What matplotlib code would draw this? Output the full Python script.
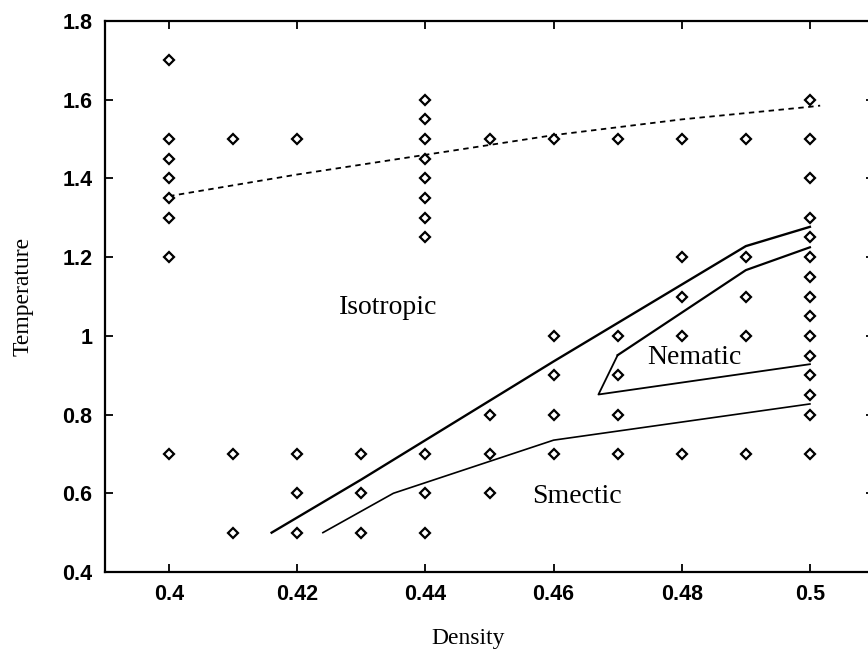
import numpy as np
import matplotlib.pyplot as plt

# simulation state points (density, temperature)
pts_x = [0.40]*8 + [0.41]*3 + [0.42]*4 + [0.43]*3 + [0.44]*11 + [0.45]*4 \
    + [0.46]*5 + [0.47]*5 + [0.48]*5 + [0.49]*5 + [0.50]*15
pts_y = [1.7, 1.5, 1.45, 1.4, 1.35, 1.3, 1.2, 0.7,
         1.5, 0.7, 0.5,
         1.5, 0.7, 0.6, 0.5,
         0.7, 0.6, 0.5,
         1.6, 1.55, 1.5, 1.45, 1.4, 1.35, 1.3, 1.25, 0.7, 0.6, 0.5,
         1.5, 0.8, 0.7, 0.6,
         1.5, 1.0, 0.9, 0.8, 0.7,
         1.5, 1.0, 0.9, 0.8, 0.7,
         1.5, 1.2, 1.1, 1.0, 0.7,
         1.5, 1.2, 1.1, 1.0, 0.7,
         1.6, 1.5, 1.4, 1.3, 1.25, 1.2, 1.15, 1.1, 1.05, 1.0, 0.95, 0.9, 0.85, 0.8, 0.7]

# dashed boundary
dash_x = [0.40, 0.42, 0.44, 0.46, 0.48, 0.50, 0.5016]
dash_y = [1.355, 1.41, 1.46, 1.51, 1.55, 1.582, 1.585]

# isotropic / ordered boundary
upper_x = [0.416, 0.43, 0.46, 0.49, 0.50]
upper_y = [0.50, 0.635, 0.935, 1.228, 1.277]

# smectic boundary
lower_x = [0.424, 0.435, 0.46, 0.50]
lower_y = [0.50, 0.60, 0.735, 0.827]

# nematic region
nem_x = [0.50, 0.49, 0.47, 0.467, 0.50]
nem_y = [1.225, 1.167, 0.951, 0.851, 0.928]

xticks = [0.4, 0.42, 0.44, 0.46, 0.48, 0.5]
xticklabels = ['0.4', '0.42', '0.44', '0.46', '0.48', '0.5']
yticks = [0.4, 0.6, 0.8, 1.0, 1.2, 1.4, 1.6, 1.8]
yticklabels = ['0.4', '0.6', '0.8', '1', '1.2', '1.4', '1.6', '1.8']

fig = plt.figure(figsize=(8.68, 6.54), dpi=100)
ax = fig.add_axes([105/868, 82/654, 769/868, 551/654])

ax.plot(dash_x, dash_y, color='k', lw=1.3, ls=(0, (3, 2.5)))
ax.plot(upper_x, upper_y, color='k', lw=1.7)
ax.plot(lower_x, lower_y, color='k', lw=1.2)
ax.plot(nem_x[:3], nem_y[:3], color='k', lw=1.6)
ax.plot(nem_x[2:], nem_y[2:], color='k', lw=1.3)
ax.plot(pts_x, pts_y, ls='none', marker='D', ms=5.2, mfc='white',
        mec='k', mew=1.6)

ax.text(0.4342, 1.073, 'Isotropic', family='Liberation Serif', fontsize=20,
        ha='center', va='center')
ax.text(0.482, 0.944, 'Nematic', family='Liberation Serif', fontsize=20,
        ha='center', va='center')
ax.text(0.4636, 0.593, 'Smectic', family='Liberation Serif', fontsize=20,
        ha='center', va='center')

ax.set_xlim(0.39, 0.51)
ax.set_ylim(0.4, 1.8)
ax.set_xticks(xticks)
ax.set_xticklabels(xticklabels)
ax.set_yticks(yticks)
ax.set_yticklabels(yticklabels)
ax.tick_params(direction='in', length=6, width=1.3, top=True, right=True,
               labelsize=15.5, pad=9)
for lab in ax.get_xticklabels() + ax.get_yticklabels():
    lab.set_family('Liberation Sans')
    lab.set_fontweight('bold')
for s in ax.spines.values():
    s.set_linewidth(1.6)

ax.set_xlabel('Density', family='Liberation Serif', fontsize=17)
ax.xaxis.set_label_coords((468 - 105) / 769, -56 / 551)
ax.set_ylabel('Temperature', family='Liberation Serif', fontsize=17)
ax.yaxis.set_label_coords(-71 / 769, 0.5)

fig.savefig('out.png', dpi=100)
